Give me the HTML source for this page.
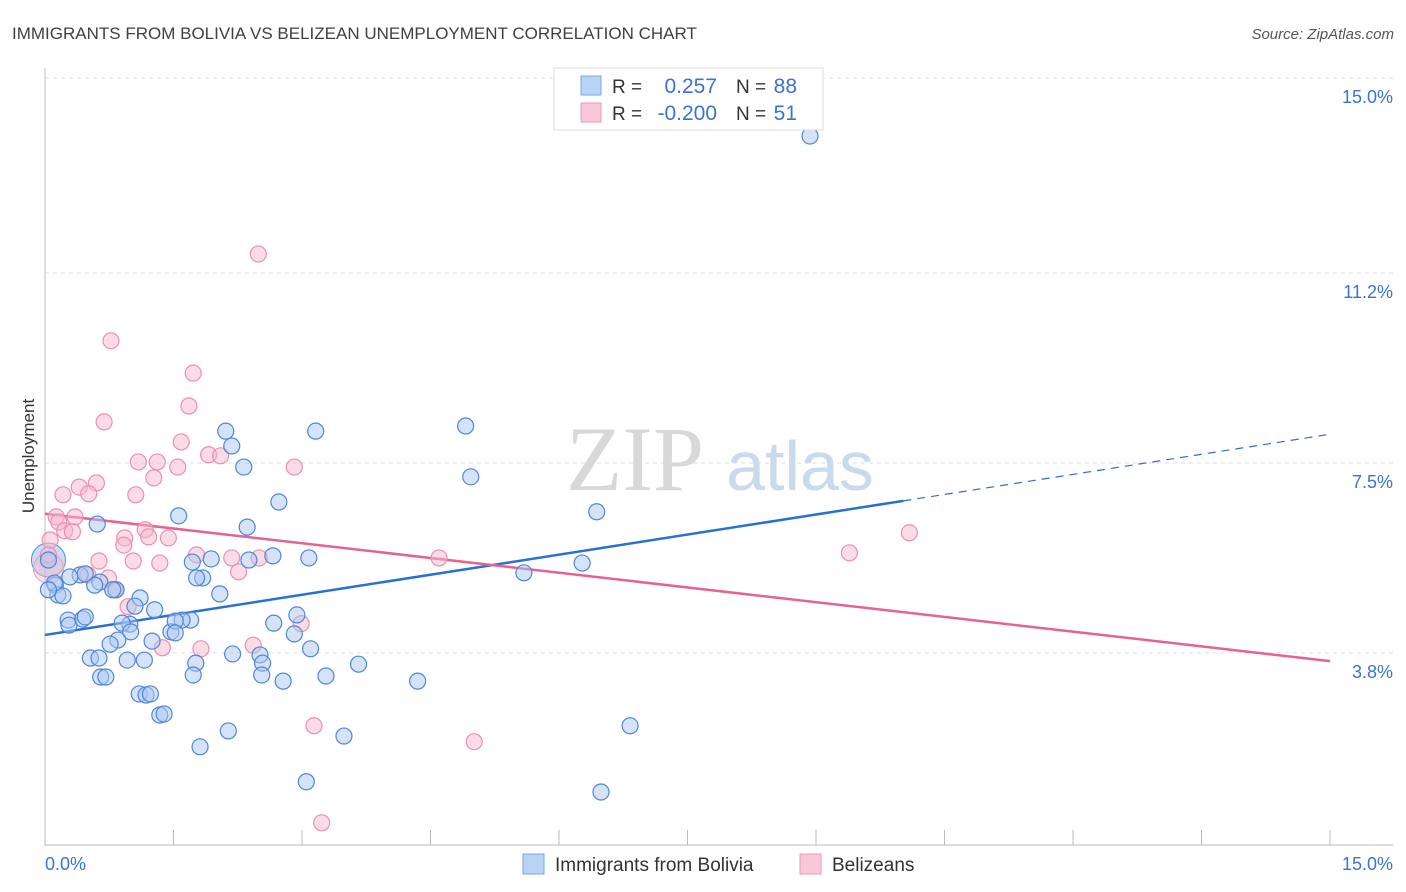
<!DOCTYPE html>
<html><head><meta charset="utf-8">
<style>
body{margin:0;background:#fff;font-family:"Liberation Sans",sans-serif;}
svg{display:block}
</style></head>
<body>
<svg id="chart" width="1406" height="892" xmlns="http://www.w3.org/2000/svg">
<text x="12" y="39" font-size="17" fill="#404040">IMMIGRANTS FROM BOLIVIA VS BELIZEAN UNEMPLOYMENT CORRELATION CHART</text>
<text x="1394" y="39" font-size="15" fill="#555" font-style="italic" text-anchor="end">Source: ZipAtlas.com</text>
<g>
<text x="635" y="490" font-size="92" fill="#d8d8d8" font-family="Liberation Serif,serif" text-anchor="middle">ZIP</text>
<text x="800" y="490" font-size="70" fill="#c9d9ee" text-anchor="middle">atlas</text>
</g>
<g id="grid"></g>
<g id="axes"></g>
<g id="lines"></g>
<g id="points"></g>
<text x="34" y="456" font-size="17" fill="#333" text-anchor="middle" transform="rotate(-90 34 456)">Unemployment</text>
<g>
<rect x="554" y="68" width="269" height="62" fill="#fff" stroke="#ddd"/>
<rect x="581" y="76" width="20" height="19" fill="#b9d3f5" stroke="#7aa6e6"/>
<rect x="581" y="103" width="20" height="19" fill="#f9c8d7" stroke="#ee9ab4"/>
<text x="612" y="93" font-size="19" fill="#333">R =</text>
<text x="717" y="93" font-size="21" fill="#3a73d4" text-anchor="end">0.257</text>
<text x="736" y="93" font-size="19" fill="#333">N =</text>
<text x="797" y="93" font-size="21" fill="#3a73d4" text-anchor="end">88</text>
<text x="612" y="120" font-size="19" fill="#333">R =</text>
<text x="717" y="120" font-size="21" fill="#3a73d4" text-anchor="end">-0.200</text>
<text x="736" y="120" font-size="19" fill="#333">N =</text>
<text x="797" y="120" font-size="21" fill="#3a73d4" text-anchor="end">51</text>
</g>
<g>
<rect x="523" y="854" width="21" height="20" fill="#b9d3f5" stroke="#7aa6e6"/>
<text x="555" y="871" font-size="19" fill="#333">Immigrants from Bolivia</text>
<rect x="800" y="854" width="21" height="20" fill="#f9c8d7" stroke="#ee9ab4"/>
<text x="832" y="871" font-size="19" fill="#333">Belizeans</text>
</g>
</svg>
<script>
const yTicks=[15.0,11.2,7.5,3.8];
const yTickLabels=["15.0%","11.2%","7.5%","3.8%"];
const xTickLabels=["0.0%","15.0%"];
const blueX=[8.93,4.91,4.97,6.44,5.59,6.27,6.83,6.49,3.16,2.11,2.18,2.32,2.73,2.36,1.56,0.61,2.66,3.08,2.38,1.94,1.72,1.84,1.77,2.04,1.70,1.60,1.47,1.52,1.28,1.11,1.05,0.99,0.90,1.00,0.85,0.76,0.83,0.64,0.58,0.41,0.47,0.29,0.12,0.15,0.21,0.27,0.28,0.44,0.47,0.53,0.63,0.65,0.71,0.96,1.16,1.25,1.76,1.73,2.19,2.51,2.54,2.53,2.78,2.67,2.94,2.91,3.10,3.28,3.66,4.35,1.10,1.18,1.23,1.34,1.39,1.81,2.14,3.49,3.05,0.11,0.04,0.04,0.79,1.52];
const blueY=[13.87,8.22,7.23,6.55,5.36,5.55,2.38,1.09,8.12,8.12,7.83,7.42,6.74,6.25,6.47,6.31,5.69,5.65,5.61,5.63,5.57,5.26,5.26,4.95,4.44,4.44,4.21,4.42,4.64,4.87,4.71,4.36,4.38,4.21,4.05,3.97,5.03,5.18,5.12,5.32,5.34,5.28,5.12,4.93,4.91,4.44,4.34,4.46,4.50,3.70,3.70,3.33,3.33,3.66,3.66,4.03,3.60,3.37,3.78,3.76,3.60,3.37,3.25,4.38,4.54,4.17,3.88,3.35,3.58,3.25,3.00,2.98,3.00,2.59,2.61,1.97,2.28,2.18,1.29,5.16,5.61,5.03,5.03,4.19];
const pinkX=[2.49,0.77,1.73,1.68,0.69,1.59,1.91,2.05,1.09,1.31,1.55,2.91,1.27,0.60,0.40,0.51,0.21,1.06,0.13,0.35,0.16,0.23,0.32,1.17,0.93,0.92,1.44,1.21,0.63,1.03,1.34,1.77,2.18,2.26,2.50,4.60,9.39,10.09,0.74,0.82,0.97,2.99,1.37,1.82,2.43,3.14,5.01,3.23,0.04,0.06,0.50];
const pinkY=[11.57,9.88,9.25,8.61,8.30,7.91,7.66,7.64,7.52,7.52,7.42,7.42,7.21,7.11,7.03,6.90,6.88,6.88,6.45,6.45,6.35,6.18,6.16,6.20,6.04,5.90,6.04,6.06,5.59,5.59,5.55,5.71,5.65,5.38,5.65,5.65,5.75,6.14,5.26,5.03,4.70,4.37,3.90,3.88,3.95,2.38,2.07,0.49,5.71,6.0,5.32];
const blueBig=[[0.04,5.61]];
const pinkBig=[[0.04,5.45]];
const blueTrend=[4.15,8.06];
const pinkTrend=[6.51,3.64];
const blueSolidEnd=10.02;

const X0=45,X1=1330,Ytop=78,pxPerPct=51.33;
const sx=v=>X0+(X1-X0)*v/15;
const sy=v=>Ytop+(15-v)*pxPerPct;
const NS="http://www.w3.org/2000/svg";
function mk(tag,attrs,parent){const e=document.createElementNS(NS,tag);for(const k in attrs)e.setAttribute(k,attrs[k]);parent.appendChild(e);return e;}
const grid=document.getElementById('grid'),axes=document.getElementById('axes'),lines=document.getElementById('lines'),pts=document.getElementById('points');
yTicks.forEach((t,i)=>{
 const l=mk('line',{x1:45,x2:1393,y1:sy(t),y2:sy(t),stroke:'#dcdcdc','stroke-dasharray':'4,4'},grid);
 
 
 const tx=mk('text',{x:1393,y:sy(t)+25,'font-size':18,fill:'#3a73d4','text-anchor':'end'},grid);
 tx.textContent=yTickLabels[i];
 
 
});
const ya=mk('line',{x1:45,x2:45,y1:68,y2:846,stroke:'#bbb'},axes);


const xa=mk('line',{x1:45,x2:1393,y1:845,y2:845,stroke:'#bbb'},axes);


for(let i=0;i<=10;i++){
 const v=i*1.5;
 const tk=mk('line',{x1:sx(v),x2:sx(v),y1:830,y2:845,stroke:'#bbb'},axes);
 
 
}
const xl0=mk('text',{x:45,y:870,'font-size':18,fill:'#3a73d4'},axes);
xl0.textContent=xTickLabels[0];


const xl1=mk('text',{x:1393,y:870,'font-size':18,fill:'#3a73d4','text-anchor':'end'},axes);
xl1.textContent=xTickLabels[1];



function drawPts(xs,ys,fill,stroke,name){
 xs.forEach((x,i)=>{
  const c=mk('circle',{cx:sx(x),cy:sy(ys[i]),r:8,fill:fill,'fill-opacity':0.5,stroke:stroke,'stroke-width':1.2},pts);
  
  
 });
}
blueBig.forEach(p=>{const c=mk('circle',{cx:sx(p[0]),cy:sy(p[1]),r:17,fill:'#a9c6ee','fill-opacity':0.6,stroke:'#5b8fdd'},pts);
 
 });
pinkBig.forEach(p=>{const c=mk('circle',{cx:sx(p[0]),cy:sy(p[1]),r:15,fill:'#f4b9cc','fill-opacity':0.45,stroke:'#ee9ab4'},pts);
 
 });
drawPts(pinkX,pinkY,'#f7b8cc','#ec8fae','belizean-point');
drawPts(blueX,blueY,'#aac8f0','#4f86d9','bolivia-point');

const by=v=>blueTrend[0]+(blueTrend[1]-blueTrend[0])*v/15;
const b1=mk('line',{x1:sx(0),y1:sy(by(0)),x2:sx(blueSolidEnd),y2:sy(by(blueSolidEnd)),stroke:'#2a6fd6','stroke-width':2.5},lines);


const b2=mk('line',{x1:sx(blueSolidEnd),y1:sy(by(blueSolidEnd)),x2:sx(15),y2:sy(by(15)),stroke:'#2a6fd6','stroke-width':1.2,'stroke-dasharray':'8,6'},lines);


const p1=mk('line',{x1:sx(0),y1:sy(pinkTrend[0]),x2:sx(15),y2:sy(pinkTrend[1]),stroke:'#e6628f','stroke-width':2.5},lines);


</script>
</body></html>
